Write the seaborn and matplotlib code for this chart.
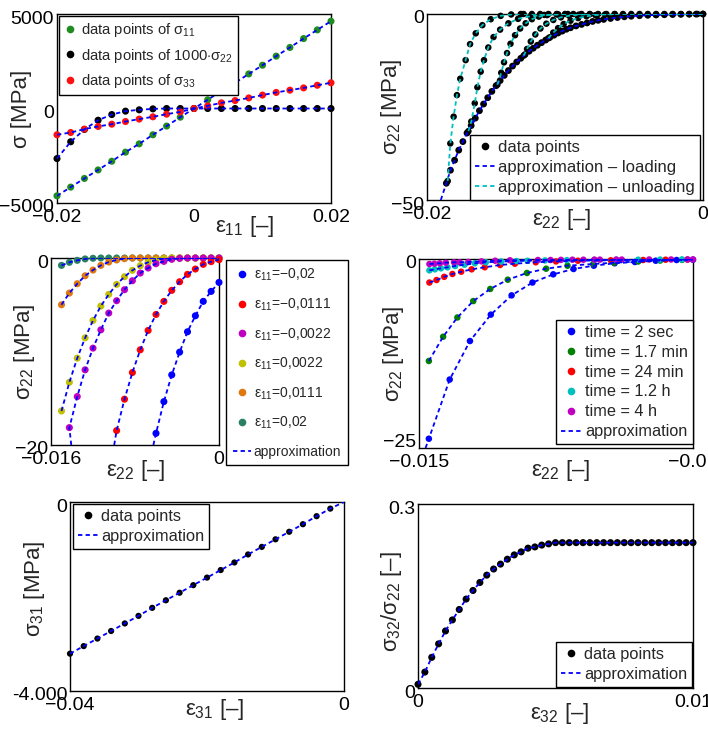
import matplotlib
matplotlib.use('Agg')
import matplotlib.pyplot as plt
import matplotlib.transforms as mtransforms
from matplotlib.lines import Line2D
import seaborn as sns

# ---------------- data ----------------
# panel 1: stresses vs eps11
p1_eps11 = [-0.020, -0.018, -0.016, -0.014, -0.012, -0.010, -0.008, -0.006, -0.004, -0.002, 0.0,
            0.002, 0.004, 0.006, 0.008, 0.010, 0.012, 0.014, 0.016, 0.018, 0.020]
p1_s11 = [-4620, -4160, -3700, -3250, -2790, -2310, -1870, -1390, -930, -460, 0,
          460, 930, 1360, 1830, 2290, 2770, 3230, 3700, 4160, 4620]
p1_s22k = [-2650, -1760, -1110, -620, -320, -140, -70, -20, 0, 0, 0,
           0, 0, 0, 0, 0, 0, 0, 0, 0, 0]
p1_s33 = [-1390, -1270, -1090, -950, -830, -690, -560, -440, -300, -180, 0,
          140, 300, 420, 560, 710, 850, 970, 1090, 1230, 1360]

# panel 2: loading envelope and unloading branches
p2_env_x = [-0.0186, -0.0183, -0.0180, -0.0177, -0.0174, -0.0171, -0.0168, -0.0165, -0.0162, -0.0159,
            -0.0156, -0.0153, -0.0150, -0.0147, -0.0144, -0.0141, -0.0138, -0.0135, -0.0132, -0.0129,
            -0.0126, -0.0123, -0.0120, -0.0117, -0.0114, -0.0111, -0.0108, -0.0105, -0.0102, -0.0099,
            -0.0096, -0.0092, -0.0088, -0.0084, -0.0080, -0.0076, -0.0072, -0.0067, -0.0062, -0.0057,
            -0.0052, -0.0046, -0.0040, -0.0034, -0.0028, -0.0022, -0.0016, -0.0010, -0.0005, 0.0]
p2_env_y = [-45.5, -42.0, -39.3, -36.6, -34.3, -32.0, -30.0, -28.0, -26.0, -24.2,
            -22.5, -20.8, -19.3, -17.9, -16.5, -15.2, -14.0, -12.9, -11.9, -10.9,
            -10.0, -9.2, -8.4, -7.7, -7.0, -6.3, -5.7, -5.1, -4.6, -4.1,
            -3.7, -3.2, -2.8, -2.4, -2.0, -1.7, -1.45, -1.2, -0.95, -0.75,
            -0.6, -0.45, -0.34, -0.26, -0.19, -0.14, -0.09, -0.06, -0.03, 0.0]
p2_load_start = (-0.0190, -50.0)
p2_unl_x = [
    [-0.0185, -0.01831, -0.01807, -0.01783, -0.01759, -0.0172, -0.01688, -0.01647, -0.01599,
     -0.01538, -0.01466, -0.0139, -0.0132],
    [-0.0170, -0.01679, -0.01654, -0.01635, -0.01611, -0.01587, -0.01556, -0.01518, -0.01470,
     -0.01410, -0.01340, -0.01250, -0.01150, -0.0105],
    [-0.0149, -0.01462, -0.01442, -0.01420, -0.01395, -0.01362, -0.01325, -0.01285, -0.01240,
     -0.01190, -0.01130, -0.01060, -0.0098],
    [-0.0130, -0.01275, -0.01248, -0.01215, -0.01178, -0.01135, -0.01085, -0.01030, -0.00970,
     -0.00900, -0.0082],
    [-0.0112, -0.01085, -0.01050, -0.01010, -0.00960, -0.00905, -0.00845, -0.00780, -0.00710,
     -0.0064],
]
p2_unl_y = [
    [-44.9, -34.8, -27.6, -21.8, -17.4, -12.4, -8.1, -5.2, -3.0, -1.4, -0.5, -0.12, 0.0],
    [-31.5, -28.9, -24.0, -19.7, -15.5, -12.4, -9.0, -6.2, -4.2, -2.5, -1.3, -0.6, -0.25, -0.08],
    [-19.0, -15.8, -13.0, -10.5, -8.0, -5.7, -3.9, -2.5, -1.4, -0.7, -0.3, -0.1, 0.0],
    [-11.2, -9.4, -7.4, -5.5, -3.9, -2.6, -1.6, -0.9, -0.45, -0.18, -0.05],
    [-6.5, -5.0, -3.8, -2.7, -1.8, -1.1, -0.6, -0.3, -0.12, -0.03],
]
p2_zero_x = [-0.0130, -0.0124, -0.0118, -0.0112, -0.0106, -0.0100, -0.0094, -0.0088, -0.0082,
             -0.0076, -0.0070, -0.0064, -0.0058, -0.0052, -0.0046, -0.0040, -0.0034, -0.0028,
             -0.0022, -0.0016, -0.0010, -0.0004, 0.0]

# panel 3: sigma22 vs eps22 for several eps11
p3_x = [-0.015, -0.01425, -0.0135, -0.01275, -0.012, -0.01125, -0.0105, -0.00975, -0.009,
        -0.00825, -0.0075, -0.00675, -0.006, -0.00525, -0.0045, -0.00375, -0.003, -0.00225,
        -0.0015, -0.00075, 0.0]
p3_labels = [r'$\varepsilon_{11}$=−0,02', r'$\varepsilon_{11}$=−0,0111', r'$\varepsilon_{11}$=−0,0022',
             r'$\varepsilon_{11}$=0,0022', r'$\varepsilon_{11}$=0,0111', r'$\varepsilon_{11}$=0,02']
p3_colors = ['#0000ff', '#ff0000', '#c000c0', '#c0c000', '#e07810', '#2a8060']
p3_first = [12, 7, 1, 0, 0, 0]  # index in p3_x where each series starts
p3_y = [
    [-18.75, -15.36, -12.5, -10.07, -7.89, -6.18, -4.64, -3.57, -2.61],
    [-18.46, -15.1, -12.25, -9.82, -7.75, -6.04, -4.64, -3.46, -2.54, -1.75, -1.18, -0.68, -0.39, -0.18],
    [-18.14, -14.82, -11.96, -9.64, -7.68, -5.89, -4.57, -3.39, -2.43, -1.61, -1.07, -0.61, -0.36,
     -0.14, -0.04, 0, 0, 0, 0, 0],
    [-16.36, -13.29, -10.71, -8.54, -6.68, -5.14, -3.89, -2.82, -2.0, -1.32, -0.82, -0.46, -0.21,
     -0.07, 0, 0, 0, 0, 0, 0, 0],
    [-5.0, -3.75, -2.75, -1.9, -1.29, -0.79, -0.43, -0.21, -0.07, 0, 0, 0, 0, 0, 0, 0, 0, 0, 0, 0, 0],
    [-0.79, -0.46, -0.25, -0.10, -0.03, 0, 0, 0, 0, 0, 0, 0, 0, 0, 0, 0, 0, 0, 0, 0, 0],
]
p3_edge_x = [-0.00625, -0.00998, -0.01407, None, None, None]  # where approximation meets -20

# panel 4: relaxation at different times
p4_labels = ['time = 2 sec', 'time = 1.7 min', 'time = 24 min', 'time = 1.2 h', 'time = 4 h']
p4_colors = ['#0000ff', '#008000', '#ff0000', '#00bfbf', '#c000c0']
p4_x = [
    [-0.01482, -0.01444, -0.01407, -0.01369, -0.01331, -0.01293, -0.01255, -0.01218, -0.01181,
     -0.01143, -0.01106, -0.01068, -0.01030, -0.01000],
    [-0.01482, -0.01456, -0.0143, -0.01401, -0.0137, -0.01338, -0.01303, -0.01268, -0.01229,
     -0.01182, -0.01144, -0.0110, -0.0106, -0.0102],
    [-0.01481, -0.01468, -0.01454, -0.01439, -0.01423, -0.01404, -0.0138, -0.01352, -0.01325,
     -0.01287, -0.0125, -0.0121, -0.0115, -0.01091, -0.0105, -0.0101],
    [-0.01481, -0.01471, -0.0146, -0.01448, -0.01434, -0.01417, -0.01398, -0.01378, -0.0135,
     -0.01322, -0.01302, -0.0127, -0.0123, -0.0118, -0.0114, -0.0110, -0.0106, -0.0102],
    [-0.01481, -0.01472, -0.01462, -0.01451, -0.01436, -0.01426, -0.0141, -0.01386, -0.01361,
     -0.01334, -0.01283, -0.0126, -0.01241, -0.0122, -0.0120, -0.0118, -0.0117, -0.0114,
     -0.0113, -0.0108, -0.0104, -0.0101, -0.0100],
]
p4_y = [
    [-25.2, -16.9, -11.5, -7.8, -5.1, -3.3, -2.15, -1.4, -0.94, -0.6, -0.42, -0.24, -0.14, -0.1],
    [-14.3, -10.9, -8.2, -5.9, -4.2, -2.9, -1.96, -1.36, -0.94, -0.70, -0.52, -0.35, -0.22, -0.12],
    [-3.3, -2.95, -2.5, -2.1, -1.78, -1.45, -1.16, -0.84, -0.66, -0.46, -0.34, -0.24, -0.18,
     -0.14, -0.1, -0.08],
    [-1.59, -1.45, -1.31, -1.17, -0.98, -0.8, -0.6, -0.46, -0.36, -0.28, -0.25, -0.2, -0.16,
     -0.13, -0.11, -0.1, -0.08, -0.07],
    [-0.7, -0.66, -0.6, -0.52, -0.46, -0.46, -0.42, -0.33, -0.24, -0.18, -0.14, -0.14, -0.12,
     -0.1, -0.1, -0.09, -0.09, -0.08, -0.08, -0.07, -0.07, -0.06, -0.06],
]
p4_blue_edge = (-0.01488, -26.5)

# panel 5: sigma31 vs eps31
p5_x = [-0.040, -0.038, -0.036, -0.034, -0.032, -0.030, -0.028, -0.026, -0.024, -0.022,
        -0.020, -0.018, -0.016, -0.014, -0.012, -0.010, -0.008, -0.006, -0.004, -0.002]
p5_y = [-3.21, -3.05, -2.89, -2.73, -2.57, -2.41, -2.24, -2.08, -1.92, -1.76,
        -1.60, -1.44, -1.28, -1.11, -0.95, -0.79, -0.63, -0.47, -0.30, -0.14]

# panel 6: sigma32/sigma22 vs eps32
p6_x = [0.0, 0.00025, 0.0005, 0.00075, 0.001, 0.00125, 0.0015, 0.00175, 0.002, 0.00225,
        0.0025, 0.00275, 0.003, 0.00325, 0.0035, 0.00375, 0.004, 0.00425, 0.0045, 0.00475,
        0.005, 0.00525, 0.0055, 0.00575, 0.006, 0.00625, 0.0065, 0.00675, 0.007, 0.00725,
        0.0075, 0.00775, 0.008, 0.00825, 0.0085, 0.00875, 0.009, 0.00925, 0.0095, 0.00975, 0.01]
p6_y = [0.006, 0.026, 0.050, 0.072, 0.093, 0.111, 0.128, 0.145, 0.159, 0.172,
        0.184, 0.194, 0.202, 0.210, 0.217, 0.222, 0.228, 0.230, 0.233, 0.235,
        0.237, 0.237, 0.237, 0.237, 0.237, 0.237, 0.237, 0.237, 0.237, 0.237,
        0.237, 0.237, 0.237, 0.237, 0.237, 0.237, 0.237, 0.237, 0.237, 0.237, 0.237]

# ---------------- style ----------------
sns.set_style('white')
plt.rcParams['font.family'] = ['Liberation Sans', 'DejaVu Sans']
plt.rcParams['mathtext.fontset'] = 'custom'
plt.rcParams['mathtext.rm'] = 'Liberation Sans'
plt.rcParams['mathtext.it'] = 'Liberation Sans'
plt.rcParams['mathtext.bf'] = 'Liberation Sans:bold'
plt.rcParams['axes.edgecolor'] = 'black'
plt.rcParams['axes.linewidth'] = 1.0
plt.rcParams['xtick.direction'] = 'in'
plt.rcParams['ytick.direction'] = 'in'

DASH = (0, (2.4, 1.8))
BLUE = '#0000ff'
CYAN = '#00bfbf'
W, H = 708, 731

fig = plt.figure(figsize=(7.08, 7.31), dpi=100)
# MATLAB-like tick labels sit a little below their tick
ylab_shift = mtransforms.ScaledTranslation(0, -3 / 100, fig.dpi_scale_trans)


def make_axes(left, top, right, bottom):
    return fig.add_axes([left / W, 1 - bottom / H, (right - left) / W, (bottom - top) / H])


def finish(ax, xlim, ylim, xt, xtl, yt, ytl, xlabel, ylabel, xl_pos, yl_pos):
    ax.set_xlim(xlim)
    ax.set_ylim(ylim)
    ax.set_xticks(xt, labels=xtl)
    ax.set_yticks(yt, labels=ytl)
    ax.tick_params(labelsize=14, length=3, width=0.8, colors='black')
    ax.tick_params(axis='x', pad=4)
    ax.tick_params(axis='y', pad=2)
    for lab in ax.get_yticklabels():
        lab.set_transform(lab.get_transform() + ylab_shift)
    ax.set_xlabel(xlabel, fontsize=16)
    ax.set_ylabel(ylabel, fontsize=16)
    ax.xaxis.set_label_coords(*xl_pos)
    ax.yaxis.set_label_coords(*yl_pos)


def dots(ax, x, y, color, s):
    sns.scatterplot(x=x, y=y, ax=ax, color=color, s=s, edgecolor='none', linewidth=0,
                    zorder=3, legend=False, clip_on=False)


def dashed(ax, x, y, color=BLUE):
    sns.lineplot(x=x, y=y, ax=ax, sort=False, estimator=None, color=color,
                 linestyle=DASH, linewidth=1.3, zorder=4)


def dot_handle(color, ms):
    return Line2D([], [], marker='o', ls='none', color=color, markersize=ms, markeredgewidth=0)


def line_handle(color=BLUE):
    return Line2D([], [], color=color, ls=DASH, lw=1.3)


def legend(ax, handles, labels, x, y, size, **kw):
    opts = dict(loc='upper left', bbox_to_anchor=(x / W, 1 - y / H), bbox_transform=fig.transFigure,
                borderaxespad=0, fancybox=False, framealpha=1, edgecolor='black',
                prop={'size': size}, handletextpad=0.2, borderpad=0.3, labelspacing=0.25)
    opts.update(kw)
    leg = ax.legend(handles, labels, **opts)
    leg.get_frame().set_linewidth(1.0)
    return leg


# ---------------- panel 1 ----------------
ax1 = make_axes(57, 14, 331, 203)
for ys, c in [(p1_s11, '#1e8c1e'), (p1_s22k, 'black'), (p1_s33, '#ff1010')]:
    dashed(ax1, p1_eps11, ys)
    dots(ax1, p1_eps11, ys, c, 26)
finish(ax1, (-0.02, 0.02), (-5000, 5000), [-0.02, 0, 0.02], ['−0.02', '0', '0.02'],
       [-5000, 0, 5000], ['−5000', '0', '5000'],
       r'$\varepsilon_{11}$ [–]', 'σ [MPa]', (0.686, -0.06), (-0.09, 0.5))
legend(ax1, [dot_handle('#1e8c1e', 5.5), dot_handle('black', 5.5), dot_handle('#ff1010', 5.5)],
       [r'data points of $\sigma_{11}$', r'data points of 1000$\cdot\sigma_{22}$',
        r'data points of $\sigma_{33}$'],
       59, 16, 10.6, handlelength=0.8, handletextpad=0.35, labelspacing=0.5, borderpad=0.35)

# ---------------- panel 2 ----------------
ax2 = make_axes(427, 14, 703, 200)
dashed(ax2, [p2_load_start[0]] + p2_env_x, [p2_load_start[1]] + p2_env_y, BLUE)
for bx, by in zip(p2_unl_x, p2_unl_y):
    dashed(ax2, bx, by, CYAN)
    dots(ax2, bx, by, 'black', 22)
dots(ax2, p2_env_x, p2_env_y, 'black', 24)
dots(ax2, p2_zero_x, [0.0] * len(p2_zero_x), 'black', 22)
dashed(ax2, p2_zero_x, [0.0] * len(p2_zero_x), CYAN)
finish(ax2, (-0.02, 0), (-50, 0), [-0.02, 0], ['−0.02', '0'], [-50, 0], ['−50', '0'],
       r'$\varepsilon_{22}$ [–]', r'$\sigma_{22}$ [MPa]', (0.486, -0.04), (-0.083, 0.5))
legend(ax2, [dot_handle('black', 5.5), line_handle(BLUE), line_handle(CYAN)],
       ['data points', 'approximation – loading', 'approximation – unloading'],
       470, 135, 12.0, handlelength=1.2, labelspacing=0.3)

# ---------------- panel 3 ----------------
ax3 = make_axes(51, 258, 219, 445)
for ys, first, c, edge in zip(p3_y, p3_first, p3_colors, p3_edge_x):
    xs = p3_x[first:first + len(ys)]
    if edge is not None:
        dashed(ax3, [edge] + xs, [-20] + ys)
    else:
        dashed(ax3, xs, ys)
for ys, first, c in zip(p3_y[::-1], p3_first[::-1], p3_colors[::-1]):
    dots(ax3, p3_x[first:first + len(ys)], ys, c, 26)
finish(ax3, (-0.016, 0), (-20, 0), [-0.016, 0], ['−0.016', '0'], [-20, 0], ['−20', '0'],
       r'$\varepsilon_{22}$ [–]', r'$\sigma_{22}$ [MPa]', (0.506, -0.07), (-0.083, 0.5))
legend(ax3, [dot_handle(c, 5.5) for c in p3_colors] + [line_handle()],
       p3_labels + ['approximation'], 226, 260, 10, handlelength=1.3, labelspacing=0.95,
       borderpad=0.5)

# ---------------- panel 4 ----------------
ax4 = make_axes(419, 259, 693, 448)
for i, (xs, ys) in enumerate(zip(p4_x, p4_y)):
    if i == 0:
        dashed(ax4, [p4_blue_edge[0]] + xs, [p4_blue_edge[1]] + ys)
    else:
        dashed(ax4, xs, ys)
for xs, ys, c in zip(p4_x, p4_y, p4_colors):
    dots(ax4, xs, ys, c, 22)
finish(ax4, (-0.015, -0.01), (-26.5, 0), [-0.015, -0.01], ['−0.015', '−0.01'],
       [-25, 0], ['−25', '0'],
       r'$\varepsilon_{22}$ [–]', r'$\sigma_{22}$ [MPa]', (0.518, -0.055), (-0.047, 0.5))
legend(ax4, [dot_handle(c, 5.5) for c in p4_colors] + [line_handle()],
       p4_labels + ['approximation'], 556, 320, 11.7, handlelength=1.3, labelspacing=0.3)

# ---------------- panel 5 ----------------
ax5 = make_axes(70, 502, 344, 691)
dashed(ax5, p5_x + [0.0], p5_y + [0.0])
dots(ax5, p5_x, p5_y, 'black', 20)
finish(ax5, (-0.04, 0), (-4, 0), [-0.04, 0], ['−0.04', '0'], [-4, 0], ['-4.000', '0'],
       r'$\varepsilon_{31}$ [–]', r'$\sigma_{31}$ [MPa]', (0.526, -0.032), (-0.084, 0.54))
legend(ax5, [dot_handle('black', 5.5), line_handle()], ['data points', 'approximation'],
       73, 504, 11.8, handlelength=1.2, labelspacing=0.3)

# ---------------- panel 6 ----------------
ax6 = make_axes(418, 504, 693, 688)
dashed(ax6, p6_x, p6_y)
dots(ax6, p6_x, p6_y, 'black', 26)
finish(ax6, (0, 0.01), (0, 0.3), [0, 0.01], ['0', '0.01'], [0, 0.3], ['0', '0.3'],
       r'$\varepsilon_{32}$ [–]', r'$\sigma_{32}/\sigma_{22}$ [–]', (0.516, -0.07), (-0.051, 0.47))
legend(ax6, [dot_handle('black', 5.5), line_handle()], ['data points', 'approximation'],
       556, 642, 11.8, handlelength=1.2, labelspacing=0.3)

fig.savefig('out.png', dpi=100)
